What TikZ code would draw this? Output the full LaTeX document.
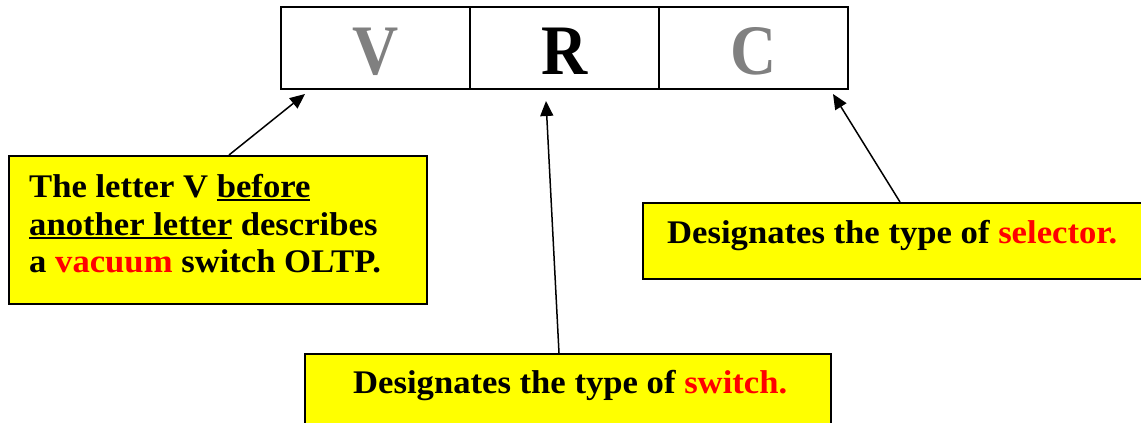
\documentclass[tikz,border=0pt]{standalone}
\usepackage{fontspec}
\setmainfont{Liberation Serif}[FakeStretch=1.05]
\newfontfamily\bigletters{Liberation Serif}[FakeStretch=0.9]
\usetikzlibrary{arrows.meta}
\definecolor{notey}{HTML}{FFFF00}
\definecolor{lettergray}{HTML}{808080}
\definecolor{hot}{HTML}{FF0000}
\newcommand\myul[1]{\setbox0\hbox{#1}\rlap{\rule[-3.5pt]{\wd0}{1.8pt}}\box0\relax}
\tikzset{
  cell/.style={draw, line width=1.8pt, minimum width=189pt, minimum height=82pt,
    inner sep=0pt, text height=52pt, text depth=0pt,
    font=\bigletters\fontsize{71pt}{71pt}\selectfont\bfseries},
  notebox/.style={draw, line width=1.8pt, fill=notey, inner sep=0pt, anchor=north west},
  notetext/.style={anchor=base west, inner sep=0pt,
    font=\fontsize{33pt}{37pt}\selectfont\bfseries},
  arr/.style={line width=1.5pt, -{Triangle[length=15pt,width=13pt]}}
}
\begin{document}
\begin{tikzpicture}[x=1pt,y=-1pt]
\useasboundingbox (0,0) rectangle (1141,423);
\clip (0,0) rectangle (1141,423);
% top cells
\node[cell, text=lettergray] (cv) at (375.5,48) {V};
\node[cell] (cr) at (564.5,48) {R};
\node[cell, text=lettergray] (cc) at (753.5,48) {C};
% left note
\node[notebox, minimum width=418pt, minimum height=148pt] (vbox) at (8,155) {};
\node[notetext] (l1) at (29,197) {The letter V \myul{before}};
\node[notetext] (l2) at (29,235) {\myul{another letter} describes};
\node[notetext] (l3) at (29,272) {a \textcolor{hot}{vacuum} switch OLTP.};
% right note
\node[notebox, minimum width=560pt, minimum height=76pt] (cbox) at (642,202) {};
\node[notetext] (ct) at (667,243) {Designates the type of \textcolor{hot}{selector.}};
% bottom note
\node[notebox, minimum width=526pt, minimum height=100pt] (rbox) at (304,353) {};
\node[notetext] (rt) at (353,393) {Designates the type of \textcolor{hot}{switch.}};
% arrow ends
\coordinate (vfrom) at (229,155);
\coordinate (vtip) at (305,94);
\coordinate (rfrom) at (559,353);
\coordinate (rtip) at (546,101);
\coordinate (cfrom) at (900,202);
\coordinate (ctip) at (833,94);
\draw[arr] (vfrom) -- (vtip);
\draw[arr] (rfrom) -- (rtip);
\draw[arr] (cfrom) -- (ctip);
\end{tikzpicture}
\end{document}
